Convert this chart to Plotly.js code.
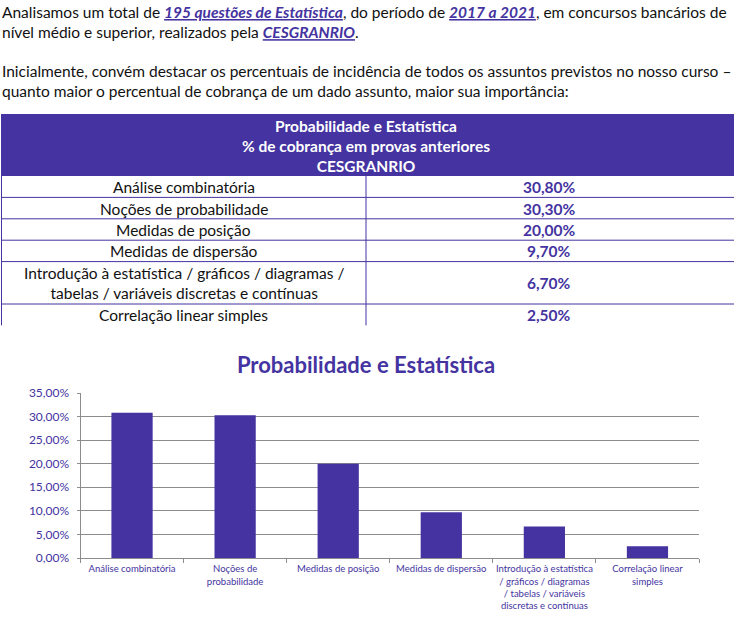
<!DOCTYPE html>
<html>
<head>
<meta charset="utf-8">
<script src="https://cdn.plot.ly/plotly-3.0.1.min.js"></script>
<style>
  html, body { margin: 0; padding: 0; background: #fff; }
  #grafico { width: 734px; height: 638px; }
</style>
</head>
<body>
<div id="grafico"></div>
<script>
// assuntos e percentuais (CESGRANRIO, 2017 a 2021)
let assuntos = ['Análise combinatória', 'Noções de probabilidade', 'Medidas de posição',
                'Medidas de dispersão',
                'Introdução à estatística / gráficos / diagramas /<br>tabelas / variáveis discretas e contínuas',
                'Correlação linear simples'];
let rotulos = ['Análise combinatória', 'Noções de<br>probabilidade', 'Medidas de posição',
               'Medidas de dispersão',
               'Introdução à estatística<br>/ gráficos / diagramas<br>/ tabelas / variáveis<br>discretas e contínuas',
               'Correlação linear<br>simples'];
let percentuais = [30.8, 30.3, 20.0, 9.7, 6.7, 2.5];
let yTicks = [0, 5, 10, 15, 20, 25, 30, 35];

let roxo = '#4433a0';
let W = 734, H = 638;
function px(x){ return x / W; }
function py(y){ return 1 - y / H; }
function fmt(v){ return v.toFixed(2).replace('.', ',') + '%'; }
function link(t){ return '<span style="color:' + roxo + ';text-decoration:underline"><b><i>' + t + '</i></b></span>'; }

let fonte = 'Lato, sans-serif';
let shapes = [];
let notas = [];

// ---- tabela (cabeçalho + linhas) ----
shapes.push({type: 'rect', xref: 'paper', yref: 'paper', x0: px(1), x1: px(734), y0: py(176), y1: py(114),
             fillcolor: roxo, line: {width: 0}, layer: 'below'});
notas.push({
    text: '<b>Probabilidade e Estatística</b><br><b>% de cobrança em provas anteriores</b><br><b>CESGRANRIO</b>',
    xref: 'paper', yref: 'paper', x: px(366), y: py(146), xanchor: 'center', yanchor: 'middle',
    showarrow: false, align: 'center',
    font: {family: fonte, size: 15.5, color: '#ffffff'}
});

let topo = 176;
assuntos.forEach(function(a, i){
    let linhas = a.split('<br>').length;
    let alt = 21.4 + (linhas - 1) * 21;
    let meio = topo + alt / 2;
    notas.push({text: a, xref: 'paper', yref: 'paper', x: px(183.5), y: py(meio + 0.5),
                xanchor: 'center', yanchor: 'middle', showarrow: false, align: 'center',
                font: {family: fonte, size: 15.5, color: '#111111'}});
    notas.push({text: '<b>' + fmt(percentuais[i]) + '</b>', xref: 'paper', yref: 'paper', x: px(549), y: py(meio + 0.5),
                xanchor: 'center', yanchor: 'middle', showarrow: false,
                font: {family: fonte, size: 15.5, color: roxo}});
    topo += alt;
    if (i < assuntos.length - 1) {
        shapes.push({type: 'line', xref: 'paper', yref: 'paper', x0: px(1), x1: px(734), y0: py(topo), y1: py(topo),
                     line: {color: roxo, width: 1}});
    }
});
shapes.push({type: 'line', xref: 'paper', yref: 'paper', x0: px(1.5), x1: px(1.5), y0: py(114), y1: py(topo),
             line: {color: roxo, width: 1}});
shapes.push({type: 'line', xref: 'paper', yref: 'paper', x0: px(366), x1: px(366), y0: py(176), y1: py(topo),
             line: {color: roxo, width: 1}});

// ---- texto introdutório ----
notas.push({
    text: 'Analisamos um total de ' + link('195 questões de Estatística') + ', do período de ' +
          link('2017 a 2021') + ', em concursos bancários de<br>nível médio e superior, realizados pela ' +
          link('CESGRANRIO') + '.',
    xref: 'paper', yref: 'paper', x: 0, y: py(1), xanchor: 'left', yanchor: 'top',
    showarrow: false, align: 'left',
    font: {family: fonte, size: 15.5, color: '#111111'}
});
notas.push({
    text: 'Inicialmente, convém destacar os percentuais de incidência de todos os assuntos previstos no nosso curso –<br>' +
          'quanto maior o percentual de cobrança de um dado assunto, maior sua importância:',
    xref: 'paper', yref: 'paper', x: 0, y: py(60), xanchor: 'left', yanchor: 'top',
    showarrow: false, align: 'left',
    font: {family: fonte, size: 15.5, color: '#111111'}
});

let barras = {
    type: 'bar',
    x: rotulos,
    y: percentuais,
    marker: {color: roxo},
    hoverinfo: 'x+y'
};

let layout = {
    width: W, height: H,
    margin: {l: 0, r: 0, t: 0, b: 0},
    paper_bgcolor: '#ffffff', plot_bgcolor: '#ffffff',
    showlegend: false,
    font: {family: fonte, color: roxo},
    bargap: 0.6,
    title: {
        text: '<b>Probabilidade e Estatística</b>',
        x: 366 / W, xanchor: 'center', xref: 'container',
        y: py(365), yanchor: 'middle', yref: 'container',
        font: {family: fonte, size: 22, color: roxo}
    },
    xaxis: {
        domain: [px(80.5), px(699)],
        showline: true, linecolor: '#8c8c8c', linewidth: 1,
        ticks: 'outside', tickson: 'boundaries', ticklen: 4, tickcolor: '#8c8c8c',
        tickfont: {family: fonte, size: 9.5, color: roxo},
        tickangle: 0,
        ticklabelstandoff: 2,
        showgrid: false
    },
    yaxis: {
        domain: [py(558), py(393)],
        range: [0, 35],
        tickmode: 'array',
        tickvals: yTicks,
        ticktext: yTicks.map(fmt),
        showline: true, linecolor: '#8c8c8c', linewidth: 1,
        ticks: 'outside', ticklen: 3, tickcolor: '#8c8c8c',
        gridcolor: '#8c8c8c', gridwidth: 1,
        zeroline: false,
        ticklabelstandoff: 5,
        tickfont: {family: fonte, size: 12, color: roxo}
    },
    shapes: shapes,
    annotations: notas
};

Plotly.newPlot('grafico', [barras], layout, {displayModeBar: false, staticPlot: true});
</script>
</body>
</html>
